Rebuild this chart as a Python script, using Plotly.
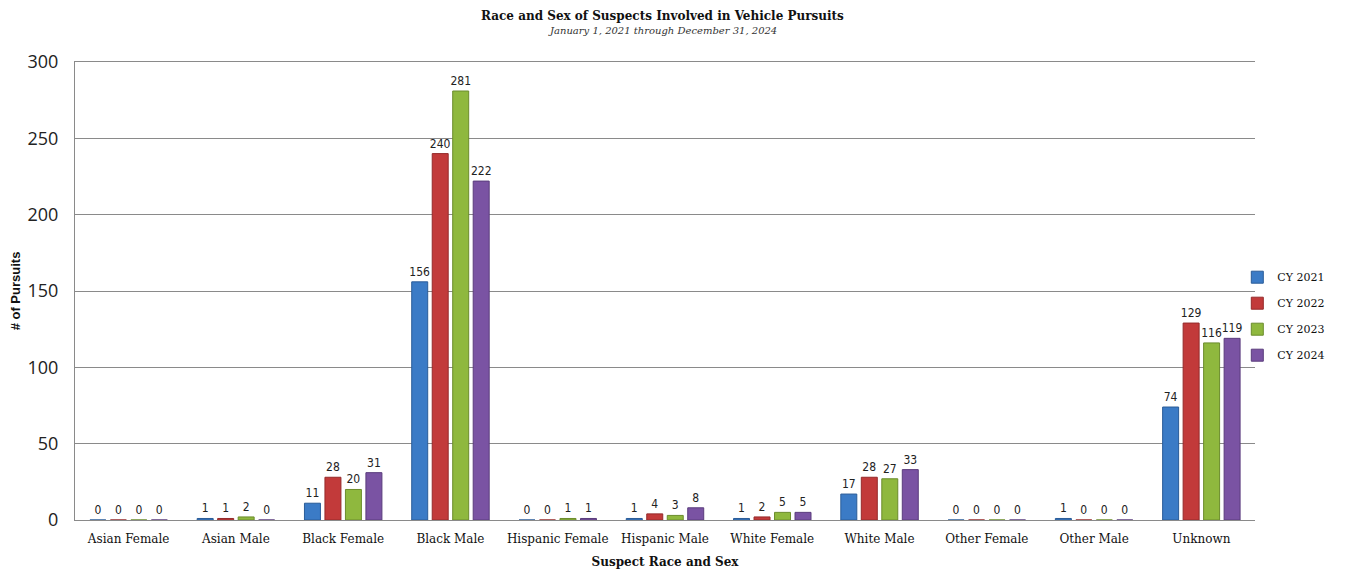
import plotly.graph_objects as go

categories = ["Asian Female", "Asian Male", "Black Female", "Black Male", "Hispanic Female",
              "Hispanic Male", "White Female", "White Male", "Other Female", "Other Male", "Unknown"]
cy2021 = [0, 1, 11, 156, 0, 1, 1, 17, 0, 1, 74]
cy2022 = [0, 1, 28, 240, 0, 4, 2, 28, 0, 0, 129]
cy2023 = [0, 2, 20, 281, 1, 3, 5, 27, 0, 0, 116]
cy2024 = [0, 0, 31, 222, 1, 8, 5, 33, 0, 0, 119]
series_names = ["CY 2021", "CY 2022", "CY 2023", "CY 2024"]
colors = ["#3b7bc6", "#c23a3a", "#8fb83e", "#7a53a3"]
lines = ["#2a5c98", "#952a2a", "#6b8c2c", "#5a3c7c"]
y_ticks = [0, 50, 100, 150, 200, 250, 300]

fig = go.Figure()
for name, vals, c, lc in zip(series_names, [cy2021, cy2022, cy2023, cy2024], colors, lines):
    fig.add_trace(go.Bar(
        x=categories, y=vals, name=name, legendgroup=name,
        marker=dict(color=c, line=dict(color=lc, width=1)),
        text=[str(v) for v in vals], textposition="outside", constraintext="none",
        textfont=dict(family="DejaVu Sans Condensed, Liberation Sans Narrow, sans-serif", size=12, color="#222"),
        cliponaxis=False,
    ))

serif = "DejaVu Serif, Liberation Serif, serif"
fig.update_layout(
    width=1350, height=571,
    barmode="group", bargap=0.236, bargroupgap=0.22,
    paper_bgcolor="white", plot_bgcolor="white",
    margin=dict(l=67, r=103, t=54, b=59, autoexpand=False),
    annotations=[
        dict(text="<b>Race and Sex of Suspects Involved in Vehicle Pursuits</b>",
             xref="paper", yref="paper", x=0.4975, y=1.1004, xanchor="center", yanchor="middle",
             showarrow=False, font=dict(family=serif, size=12, color="#111")),
        dict(text="<i>January 1, 2021 through December 31, 2024</i>",
             xref="paper", yref="paper", x=0.4975, y=1.0677, xanchor="center", yanchor="middle",
             showarrow=False, font=dict(family=serif, size=10, color="#333")),
    ],
    xaxis=dict(
        title=dict(text="<b>Suspect Race and Sex</b>", standoff=12,
                   font=dict(family=serif, size=12, color="#111")),
        tickfont=dict(family=serif, size=12, color="#111"),
        showline=True, mirror=True, linecolor="#8a8a8a", linewidth=1, ticks="", ticklabelstandoff=8,
    ),
    yaxis=dict(
        title=dict(text="<b># of Pursuits</b>", standoff=13,
                   font=dict(family="Liberation Sans, sans-serif", size=13, color="#111")),
        range=[0, 300], tickvals=y_ticks,
        tickfont=dict(family="Open Sans, Liberation Sans, sans-serif", size=18, color="#222"),
        showgrid=True, gridcolor="#8a8a8a", gridwidth=1, ticklabelstandoff=12,
        showline=True, linecolor="#8a8a8a", linewidth=1, zeroline=False, ticks="",
    ),
    legend=dict(
        x=0.985, xanchor="left", y=0.445, yanchor="middle",
        font=dict(family=serif, size=11, color="#111"),
        itemwidth=30, tracegroupgap=7, bgcolor="rgba(0,0,0,0)",
    ),
    showlegend=True,
)

fig.write_html("out.html")
